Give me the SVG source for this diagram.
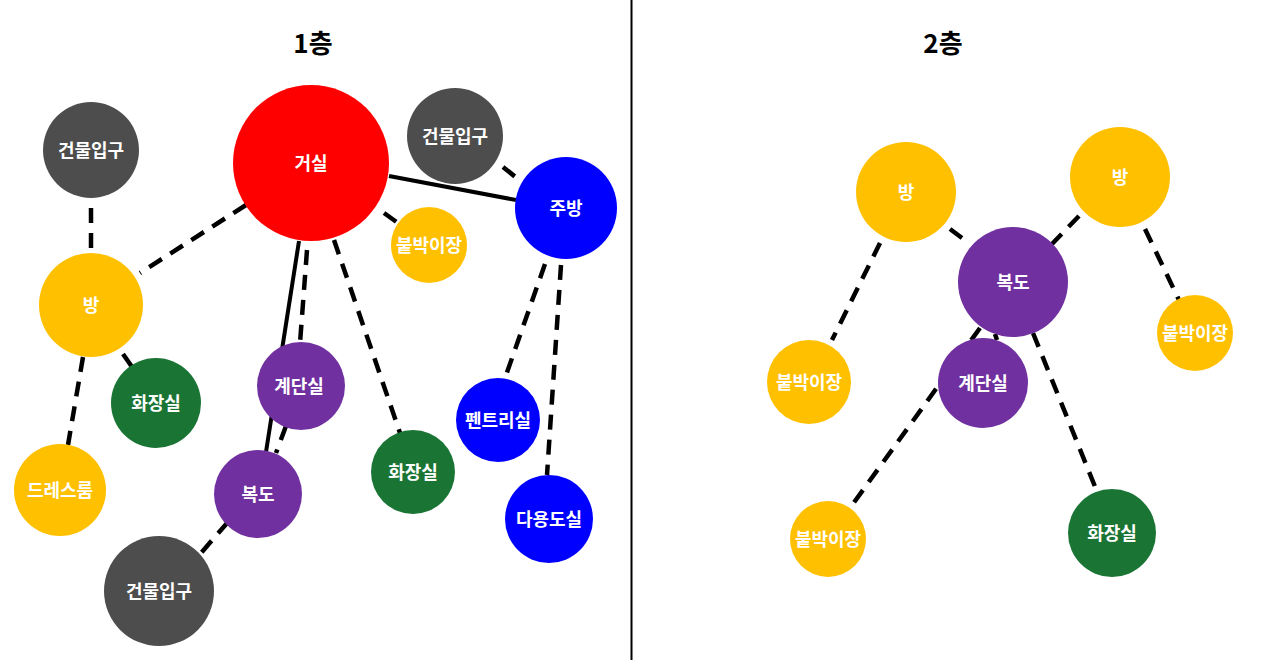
<svg xmlns="http://www.w3.org/2000/svg" width="1261" height="660" viewBox="0 0 1261 660">
<style>
.t{font-family:"Noto Sans CJK KR","Malgun Gothic",sans-serif;font-weight:bold;fill:#fff;font-size:18px;text-anchor:middle}
.h{font-family:"Noto Sans CJK KR",sans-serif;font-weight:bold;fill:#000;font-size:26px;text-anchor:middle}
.d{stroke:#000;stroke-width:4.5;stroke-dasharray:15 10;fill:none}
.s{stroke:#000;stroke-width:4;fill:none}
.red{fill:#FF0000}.gray{fill:#4D4D4D}.blue{fill:#0000FF}.yel{fill:#FFC000}.grn{fill:#1A7535}.pur{fill:#7030A0}
</style>
<rect width="1261" height="660" fill="#fff"/>
<line x1="631.5" y1="0" x2="631.5" y2="660" stroke="#000" stroke-width="2"/>
<text class="h" x="313" y="53">1층</text>
<text class="h" x="943" y="53">2층</text>
<g id="connectors">
<line class="d" x1="91" y1="208" x2="91" y2="254"/>
<line class="d" x1="246" y1="205" x2="140" y2="273"/>
<line class="s" x1="389" y1="176" x2="516" y2="200"/>
<line class="d" x1="503" y1="167" x2="518" y2="179"/>
<line class="d" x1="384" y1="213" x2="398" y2="223"/>
<line class="s" x1="299" y1="241" x2="266" y2="452"/>
<line class="d" x1="307" y1="250" x2="300" y2="343"/>
<line class="d" x1="286" y1="426" x2="276" y2="453"/>
<line class="d" x1="334" y1="240" x2="400" y2="433"/>
<line class="d" x1="123" y1="354" x2="132" y2="367"/>
<line class="d" x1="83" y1="357" x2="68" y2="445"/>
<line class="d" x1="228" y1="522" x2="201" y2="553"/>
<line class="d" x1="545" y1="264" x2="504" y2="381"/>
<line class="d" x1="561" y1="265" x2="547" y2="475"/>
<line class="d" x1="950" y1="229" x2="966" y2="241"/>
<line class="d" x1="1079" y1="216" x2="1052" y2="244"/>
<line class="d" x1="880" y1="243" x2="832" y2="340"/>
<line class="d" x1="1145" y1="229" x2="1179" y2="300"/>
<line class="d" x1="980" y1="328" x2="850" y2="508"/>
<line class="d" x1="995" y1="334" x2="997" y2="340"/>
<line class="d" x1="1033" y1="333" x2="1098" y2="494"/>
</g>
<g id="n_entrance1"><circle class="gray" cx="91" cy="150" r="48"/><text class="t" x="91" y="157">건물입구</text></g>
<g id="n_living"><circle class="red" cx="311" cy="163" r="78"/><text class="t" x="311" y="170">거실</text></g>
<g id="n_entrance2"><circle class="gray" cx="455" cy="136" r="48"/><text class="t" x="455" y="143">건물입구</text></g>
<g id="n_kitchen"><circle class="blue" cx="566" cy="208" r="51"/><text class="t" x="566" y="215">주방</text></g>
<g id="n_closet1"><circle class="yel" cx="429" cy="245" r="38"/><text class="t" x="429" y="252">붙박이장</text></g>
<g id="n_room1"><circle class="yel" cx="91" cy="305" r="52"/><text class="t" x="91" y="312">방</text></g>
<g id="n_toilet1"><circle class="grn" cx="156" cy="403" r="45"/><text class="t" x="156" y="410">화장실</text></g>
<g id="n_dress"><circle class="yel" cx="60" cy="490" r="46"/><text class="t" x="60" y="497">드레스룸</text></g>
<g id="n_stairs1"><circle class="pur" cx="301" cy="386" r="44"/><text class="t" x="299" y="393">계단실</text></g>
<g id="n_hall1"><circle class="pur" cx="258" cy="494" r="44"/><text class="t" x="258" y="501">복도</text></g>
<g id="n_entrance3"><circle class="gray" cx="159" cy="591" r="55"/><text class="t" x="159" y="598">건물입구</text></g>
<g id="n_toilet2"><circle class="grn" cx="413" cy="472" r="42"/><text class="t" x="413" y="479">화장실</text></g>
<g id="n_pantry"><circle class="blue" cx="498" cy="420" r="42"/><text class="t" x="498" y="427">펜트리실</text></g>
<g id="n_utility"><circle class="blue" cx="549" cy="519" r="44"/><text class="t" x="549" y="526">다용도실</text></g>
<g id="n_room2a"><circle class="yel" cx="906" cy="192" r="50"/><text class="t" x="906" y="199">방</text></g>
<g id="n_room2b"><circle class="yel" cx="1120" cy="177" r="50"/><text class="t" x="1120" y="184">방</text></g>
<g id="n_hall2"><circle class="pur" cx="1013" cy="282" r="55"/><text class="t" x="1013" y="289">복도</text></g>
<g id="n_stairs2"><circle class="pur" cx="983" cy="383" r="45"/><text class="t" x="983" y="390">계단실</text></g>
<g id="n_closet2"><circle class="yel" cx="809" cy="382" r="42"/><text class="t" x="809" y="389">붙박이장</text></g>
<g id="n_closet3"><circle class="yel" cx="1195" cy="333" r="38"/><text class="t" x="1195" y="340">붙박이장</text></g>
<g id="n_closet4"><circle class="yel" cx="828" cy="539" r="38"/><text class="t" x="828" y="546">붙박이장</text></g>
<g id="n_toilet3"><circle class="grn" cx="1112" cy="533" r="44"/><text class="t" x="1112" y="540">화장실</text></g>
</svg>
